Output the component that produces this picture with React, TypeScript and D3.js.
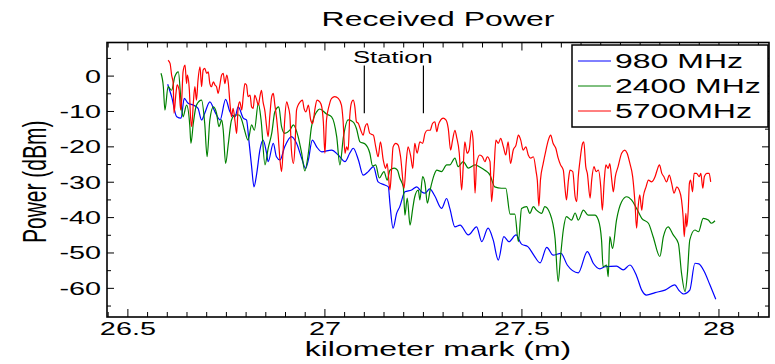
import React from "react";
import * as d3 from "d3";

// values: [kilometer mark, power dBm]
const series980: [number, number][] = [
  [26.601, -2.3], [26.611, -5.8], [26.624, -11.5], [26.635, -11.9], [26.643, -6.3], [26.653, -7.7],
  [26.666, -8.2], [26.678, -9.1], [26.687, -12.4], [26.695, -10.5], [26.708, -7.3], [26.721, -10.1],
  [26.734, -12.4], [26.748, -6.6], [26.759, -10.1], [26.772, -11.5], [26.78, -8.7], [26.793, -11.9],
  [26.801, -12.4], [26.807, -18.1], [26.814, -25.6], [26.82, -31.3], [26.827, -27.5], [26.835, -20.9],
  [26.843, -18.1], [26.852, -21.8], [26.856, -24.2], [26.869, -19.0], [26.877, -22.8], [26.886, -23.7],
  [26.898, -20.0], [26.915, -17.1], [26.928, -19.0], [26.941, -23.2], [26.951, -26.1], [26.958, -23.7],
  [26.968, -18.1], [26.979, -20.0], [26.992, -21.4], [27.017, -20.9], [27.034, -22.3], [27.051, -24.2],
  [27.063, -21.8], [27.072, -20.4], [27.085, -23.7], [27.097, -28.0], [27.11, -27.0], [27.123, -25.6],
  [27.135, -29.9], [27.152, -30.8], [27.161, -31.3], [27.165, -36.0], [27.173, -43.0], [27.182, -38.8],
  [27.19, -36.9], [27.203, -32.7], [27.22, -32.2], [27.233, -31.3], [27.245, -32.7], [27.254, -33.1],
  [27.266, -31.9], [27.279, -33.9], [27.296, -37.4], [27.309, -34.6], [27.317, -37.4], [27.33, -42.6],
  [27.343, -42.1], [27.364, -44.9], [27.385, -42.6], [27.398, -46.8], [27.414, -43.0], [27.427, -46.3],
  [27.44, -52.0], [27.454, -45.4], [27.467, -46.8], [27.485, -44.9], [27.499, -47.5], [27.515, -48.2],
  [27.53, -50.6], [27.546, -52.8], [27.563, -48.4], [27.579, -50.6], [27.599, -50.1], [27.615, -53.4],
  [27.643, -55.6], [27.666, -49.6], [27.681, -52.9], [27.698, -54.5], [27.711, -53.9], [27.74, -53.7],
  [27.757, -54.8], [27.774, -53.4], [27.791, -56.5], [27.804, -60.5], [27.816, -61.9], [27.838, -61.2],
  [27.863, -60.5], [27.888, -59.0], [27.898, -60.5], [27.911, -61.6], [27.926, -60.5], [27.939, -52.9],
  [27.949, -53.1], [27.962, -55.1], [27.977, -59.0], [27.992, -63.1],
];

const series2400: [number, number][] = [
  [26.584, 0.8], [26.59, -3.0], [26.594, -9.6], [26.602, -3.0], [26.611, -4.0], [26.619, -0.2],
  [26.628, 1.2], [26.636, -8.7], [26.64, -11.5], [26.649, -8.2], [26.657, -13.8], [26.66, -19.0],
  [26.666, -13.4], [26.674, -8.2], [26.687, -6.8], [26.695, -13.4], [26.701, -22.8], [26.708, -12.4],
  [26.717, -8.7], [26.725, -10.5], [26.731, -14.3], [26.738, -12.4], [26.742, -15.3], [26.748, -24.7],
  [26.755, -19.0], [26.763, -12.4], [26.772, -11.0], [26.782, -11.0], [26.789, -12.4], [26.795, -14.8],
  [26.805, -18.1], [26.814, -13.8], [26.821, -15.3], [26.831, -7.7], [26.838, -12.4], [26.848, -25.1],
  [26.856, -20.4], [26.865, -16.2], [26.873, -10.1], [26.883, -8.7], [26.89, -14.3], [26.898, -16.2],
  [26.911, -15.3], [26.92, -13.8], [26.932, -17.1], [26.941, -21.8], [26.949, -26.8], [26.958, -21.8],
  [26.966, -14.3], [26.979, -10.1], [26.987, -9.3], [27.004, -10.7], [27.017, -11.5], [27.03, -17.2],
  [27.038, -25.1], [27.047, -17.2], [27.059, -12.4], [27.072, -13.0], [27.08, -14.8], [27.089, -18.6],
  [27.102, -19.2], [27.114, -21.8], [27.121, -25.4], [27.129, -25.1], [27.138, -28.8], [27.15, -27.0],
  [27.158, -29.4], [27.165, -26.6], [27.176, -26.0], [27.184, -26.6], [27.19, -28.8], [27.199, -31.4],
  [27.203, -39.3], [27.209, -34.5], [27.216, -42.1], [27.223, -37.3], [27.228, -34.1], [27.237, -32.2],
  [27.241, -35.0], [27.248, -28.4], [27.254, -30.3], [27.26, -35.9], [27.267, -32.2], [27.277, -28.0],
  [27.284, -26.6], [27.296, -27.0], [27.309, -25.1], [27.317, -25.1], [27.33, -23.2], [27.338, -25.6],
  [27.351, -24.2], [27.364, -26.0], [27.381, -25.1], [27.393, -25.7], [27.406, -26.6], [27.419, -28.0],
  [27.431, -31.3], [27.448, -31.7], [27.459, -31.7], [27.47, -39.0], [27.482, -39.0], [27.491, -46.8],
  [27.499, -37.4], [27.512, -36.9], [27.52, -38.8], [27.529, -36.9], [27.537, -37.9], [27.55, -38.8],
  [27.558, -36.9], [27.571, -38.8], [27.584, -45.8], [27.592, -58.1], [27.598, -51.0], [27.605, -43.5],
  [27.613, -39.7], [27.626, -40.7], [27.635, -38.7], [27.643, -40.7], [27.656, -37.9], [27.668, -39.3],
  [27.685, -39.3], [27.694, -40.7], [27.702, -46.3], [27.706, -53.9], [27.715, -53.4], [27.719, -56.7],
  [27.723, -45.4], [27.73, -48.7], [27.74, -40.7], [27.753, -35.5], [27.766, -34.1], [27.778, -35.0],
  [27.791, -37.4], [27.804, -40.2], [27.821, -41.6], [27.833, -45.4], [27.85, -51.0], [27.859, -45.4],
  [27.871, -42.6], [27.884, -44.9], [27.897, -47.3], [27.905, -55.7], [27.914, -60.9], [27.92, -55.7],
  [27.926, -46.3], [27.939, -43.5], [27.948, -44.0], [27.96, -40.2], [27.973, -40.7], [27.981, -41.6],
  [27.99, -40.9],
];

const series5700: [number, number][] = [
  [26.602, 4.5], [26.607, 3.6], [26.611, 0.3], [26.615, -2.1], [26.617, -10.5], [26.622, -4.9],
  [26.625, -2.5], [26.63, -4.0], [26.634, -9.6], [26.637, -5.8], [26.64, 1.2], [26.645, 3.1],
  [26.649, -2.1], [26.651, 0.3], [26.656, -4.0], [26.659, -11.5], [26.662, -14.3], [26.666, -7.7],
  [26.67, -3.0], [26.674, -6.8], [26.678, -1.1], [26.683, 2.6], [26.687, -3.0], [26.691, 1.7],
  [26.695, 2.2], [26.7, 0.8], [26.704, 1.2], [26.708, -2.1], [26.712, -3.0], [26.717, -1.6],
  [26.721, -2.5], [26.725, -3.0], [26.729, -4.9], [26.734, -2.1], [26.738, 0.3], [26.742, 0.8],
  [26.746, -2.1], [26.751, 0.3], [26.755, -2.1], [26.759, -7.7], [26.763, -11.5], [26.767, -9.1],
  [26.772, -12.9], [26.776, -16.2], [26.78, -8.7], [26.784, -7.3], [26.789, -9.6], [26.793, -5.4],
  [26.797, -2.1], [26.801, -2.5], [26.805, -5.8], [26.81, -5.4], [26.814, -8.7], [26.818, -9.1],
  [26.822, -5.4], [26.827, -6.8], [26.831, -8.2], [26.835, -5.8], [26.839, -4.0], [26.843, -7.3],
  [26.848, -10.1], [26.852, -14.3], [26.856, -17.1], [26.86, -11.5], [26.865, -5.8], [26.869, -4.9],
  [26.873, -8.2], [26.877, -11.5], [26.881, -16.2], [26.886, -23.7], [26.89, -27.0], [26.894, -20.9],
  [26.898, -12.4], [26.903, -7.3], [26.907, -8.7], [26.911, -11.0], [26.915, -20.9], [26.92, -24.7],
  [26.924, -20.0], [26.928, -9.6], [26.932, -8.2], [26.937, -7.3], [26.943, -6.8], [26.947, -9.1],
  [26.952, -10.1], [26.958, -8.2], [26.964, -12.4], [26.969, -13.4], [26.975, -9.1], [26.98, -6.8],
  [26.987, -7.3], [26.992, -8.7], [26.996, -12.9], [27.0, -21.8], [27.004, -12.4], [27.011, -8.2],
  [27.017, -6.3], [27.025, -5.8], [27.034, -6.3], [27.042, -8.2], [27.046, -12.4], [27.051, -21.8],
  [27.055, -20.0], [27.059, -20.9], [27.063, -11.5], [27.068, -7.3], [27.072, -6.8], [27.076, -8.7],
  [27.08, -12.9], [27.085, -13.4], [27.091, -15.3], [27.097, -16.7], [27.102, -14.3], [27.107, -13.4],
  [27.114, -16.2], [27.123, -16.7], [27.129, -20.0], [27.135, -22.8], [27.141, -18.6], [27.148, -23.7],
  [27.154, -26.1], [27.158, -24.7], [27.165, -32.2], [27.169, -26.6], [27.173, -20.0], [27.18, -19.0],
  [27.186, -19.5], [27.192, -22.8], [27.201, -31.7], [27.206, -24.7], [27.211, -20.0], [27.218, -22.8],
  [27.223, -26.1], [27.228, -19.0], [27.234, -21.8], [27.241, -18.6], [27.248, -19.0], [27.254, -16.2],
  [27.26, -15.3], [27.267, -15.3], [27.273, -13.4], [27.279, -12.9], [27.284, -15.7], [27.288, -13.8],
  [27.294, -12.4], [27.3, -11.9], [27.307, -12.4], [27.313, -14.8], [27.319, -20.9], [27.324, -18.1],
  [27.33, -15.3], [27.334, -17.1], [27.341, -21.8], [27.347, -32.2], [27.351, -25.6], [27.355, -18.6],
  [27.361, -21.8], [27.366, -20.9], [27.372, -15.3], [27.376, -18.1], [27.381, -33.1], [27.385, -24.7],
  [27.393, -22.3], [27.4, -22.8], [27.406, -24.2], [27.412, -22.8], [27.419, -24.2], [27.423, -35.5],
  [27.429, -26.6], [27.434, -18.1], [27.44, -19.0], [27.446, -17.6], [27.453, -20.0], [27.459, -22.3],
  [27.465, -18.6], [27.471, -24.7], [27.478, -20.9], [27.485, -19.5], [27.491, -16.7], [27.497, -18.1],
  [27.503, -20.9], [27.51, -20.0], [27.516, -22.3], [27.522, -23.2], [27.529, -22.8], [27.536, -27.0],
  [27.539, -29.4], [27.543, -36.7], [27.547, -29.4], [27.554, -24.7], [27.561, -20.9], [27.567, -18.1],
  [27.573, -16.7], [27.579, -19.0], [27.586, -20.4], [27.592, -23.2], [27.598, -25.1], [27.605, -26.6],
  [27.609, -31.3], [27.613, -35.0], [27.618, -29.4], [27.622, -26.6], [27.629, -27.0], [27.635, -34.1],
  [27.639, -35.5], [27.643, -28.4], [27.647, -24.2], [27.654, -19.0], [27.657, -18.6], [27.662, -25.6],
  [27.666, -27.5], [27.673, -34.5], [27.677, -29.4], [27.683, -25.6], [27.688, -27.0], [27.694, -26.6],
  [27.7, -31.3], [27.704, -37.9], [27.709, -29.4], [27.713, -25.1], [27.719, -26.1], [27.723, -24.7],
  [27.728, -29.4], [27.732, -32.7], [27.737, -28.4], [27.744, -25.6], [27.753, -21.8], [27.761, -20.9],
  [27.767, -21.8], [27.774, -24.7], [27.781, -28.4], [27.787, -36.0], [27.791, -43.0], [27.795, -36.9],
  [27.799, -33.6], [27.804, -37.9], [27.808, -34.1], [27.815, -31.3], [27.821, -29.4], [27.829, -29.9],
  [27.838, -28.4], [27.843, -26.6], [27.849, -25.1], [27.855, -27.5], [27.86, -28.4], [27.867, -29.9],
  [27.874, -28.0], [27.88, -30.3], [27.886, -33.1], [27.893, -31.3], [27.899, -32.2], [27.905, -35.0],
  [27.909, -39.7], [27.912, -45.4], [27.916, -38.8], [27.918, -42.6], [27.922, -37.9], [27.925, -30.3],
  [27.928, -29.4], [27.933, -32.7], [27.937, -27.5], [27.943, -27.5], [27.95, -28.4], [27.954, -27.5],
  [27.959, -31.7], [27.963, -28.4], [27.969, -27.5], [27.975, -27.5], [27.979, -29.9],
];

const seriesNames = ["980 MHz", "2400 MHz", "5700MHz"];
const seriesColors = ["#0000ff", "#008000", "#ff0000"];
const allSeries = [series980, series2400, series5700];

const xMajorTicks = [26.5, 27, 27.5, 28];
const xTickLabels = ["26.5", "27", "27.5", "28"];
const yMajorTicks = [0, -10, -20, -30, -40, -50, -60];
const yTickLabels = ["0", "-10", "-20", "-30", "-40", "-50", "-60"];

// station annotation: two marker lines (km) spanning a dBm range
const stationKm = [27.1, 27.25];
const stationDbm = [-10.5, 3.0];

const W = 775;
const H = 364;
const box = { left: 107, right: 769, top: 42.5, bottom: 317 };
const SX = 1.6; // the original figure is stretched horizontally
const FONT = "'Liberation Sans', Arial, Helvetica, sans-serif";

export default function App() {
  const x = d3.scaleLinear().domain([26.447, 28.127]).range([box.left, box.right]);
  const y = d3.scaleLinear().domain([-68.1, 9.5]).range([box.bottom, box.top]);

  // smooth through the sampled points, the source is densely sampled
  const line = d3
    .line<[number, number]>()
    .curve(d3.curveMonotoneX)
    .x((d) => x(d[0]))
    .y((d) => y(d[1]));

  const xMinor = d3.range(0, 34).map((i) => 26.45 + i * 0.05);
  const yMinor = d3.range(0, 15).map((i) => -65 + i * 5);

  const stretched = (tx: number, ty: number) => `translate(${tx},${ty}) scale(${SX},1)`;

  return (
    <svg
      width={W}
      height={H}
      style={{ position: "absolute", left: 0, top: 0, background: "#fff" }}
      fontFamily={FONT}
    >
      <rect width={W} height={H} fill="#fff" />

      {/* title */}
      <text transform={stretched((box.left + box.right) / 2, 26)} textAnchor="middle" fontSize={20}>
        Received Power
      </text>

      {/* data */}
      {allSeries.map((s, i) => (
        <path key={i} d={line(s) || ""} fill="none" stroke={seriesColors[i]} strokeWidth={1.2} strokeLinejoin="round" />
      ))}

      {/* x ticks (bottom + top, inward) */}
      {xMinor.map((v, i) => {
        const major = xMajorTicks.some((m) => Math.abs(m - v) < 1e-6);
        const len = major ? 8 : 5;
        return (
          <g key={"xt" + i} stroke="#000" strokeWidth={1}>
            <line x1={x(v)} x2={x(v)} y1={box.bottom} y2={box.bottom - len} />
            <line x1={x(v)} x2={x(v)} y1={box.top} y2={box.top + len} />
          </g>
        );
      })}

      {/* y ticks (left + right, inward) */}
      {yMinor.map((v, i) => {
        const major = v % 10 === 0;
        const len = major ? 7 : 4;
        return (
          <g key={"yt" + i} stroke="#000" strokeWidth={1}>
            <line x1={box.left} x2={box.left + len} y1={y(v)} y2={y(v)} />
            <line x1={box.right} x2={box.right - len} y1={y(v)} y2={y(v)} />
          </g>
        );
      })}

      {/* axes box */}
      <rect
        x={box.left}
        y={box.top}
        width={box.right - box.left}
        height={box.bottom - box.top}
        fill="none"
        stroke="#000"
        strokeWidth={1.6}
      />

      {/* x tick labels */}
      {xMajorTicks.map((v, i) => (
        <text key={"xl" + i} transform={stretched(x(v), 335)} textAnchor="middle" fontSize={18}>
          {xTickLabels[i]}
        </text>
      ))}

      {/* y tick labels */}
      {yMajorTicks.map((v, i) => (
        <text key={"yl" + i} transform={stretched(box.left - 6, y(v) + 6.5)} textAnchor="end" fontSize={18}>
          {yTickLabels[i]}
        </text>
      ))}

      {/* axis labels */}
      <text transform={stretched((box.left + box.right) / 2, 356)} textAnchor="middle" fontSize={20}>
        kilometer mark (m)
      </text>
      <text
        transform={`translate(46,${(box.top + box.bottom) / 2 + 2}) scale(${SX},1) rotate(-90)`}
        textAnchor="middle"
        fontSize={21}
      >
        Power (dBm)
      </text>

      {/* station annotation */}
      {stationKm.map((k, i) => (
        <line key={"st" + i} x1={x(k)} x2={x(k)} y1={y(stationDbm[0])} y2={y(stationDbm[1])} stroke="#000" strokeWidth={1.2} />
      ))}
      <text transform={stretched(353, 62.5)} fontSize={16}>
        Station
      </text>

      {/* legend */}
      <g>
        <rect x={572} y={45} width={196} height={82} fill="#fff" stroke="#000" strokeWidth={1.5} />
        {seriesNames.map((name, i) => {
          const ly = 61 + i * 25;
          return (
            <g key={"lg" + i}>
              <line x1={578} x2={611} y1={ly} y2={ly} stroke={seriesColors[i]} strokeWidth={1} />
              <text transform={stretched(615, ly + 7)} fontSize={20}>
                {name}
              </text>
            </g>
          );
        })}
      </g>
    </svg>
  );
}
